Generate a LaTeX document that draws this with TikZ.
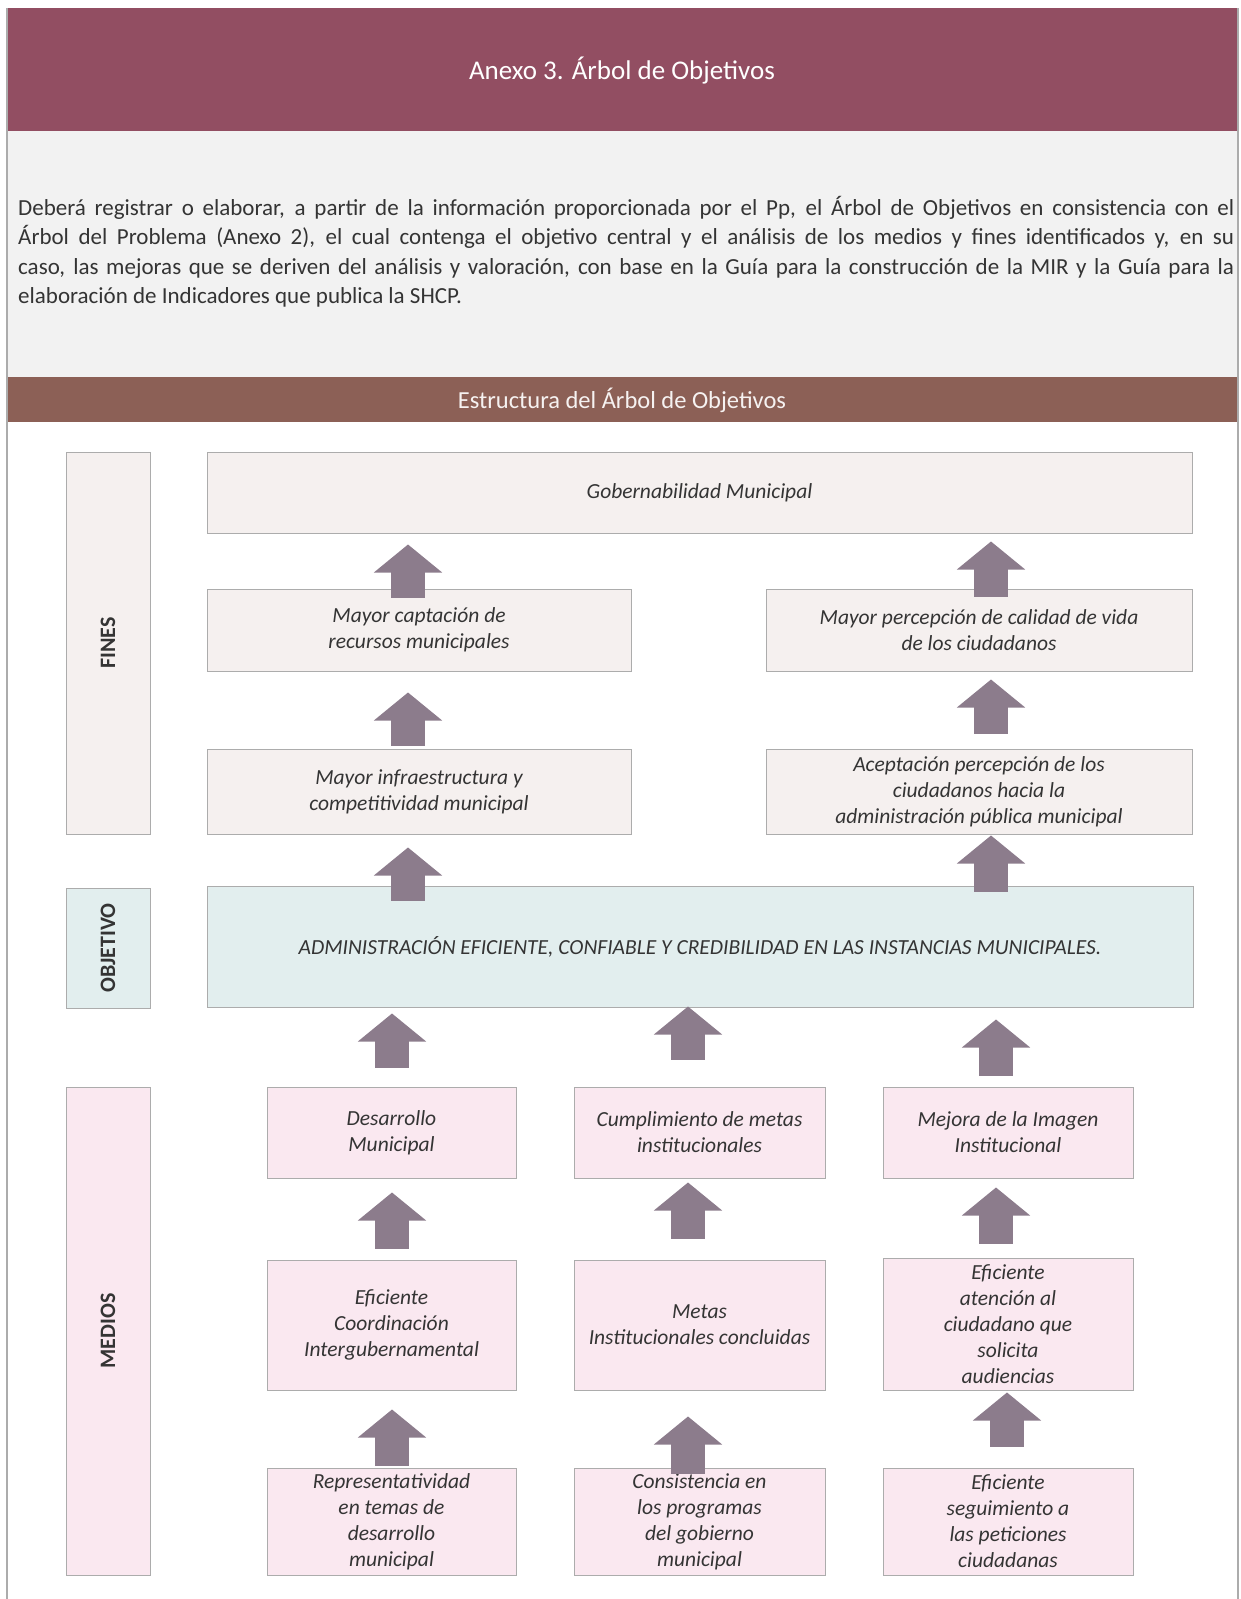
\documentclass[tikz,border=0pt]{standalone}
\usepackage{fontspec}
\setmainfont{Carlito}
\usetikzlibrary{arrows.meta,positioning}

\definecolor{headband}{RGB}{146,78,98}
\definecolor{estband}{RGB}{140,96,86}
\definecolor{parfill}{RGB}{242,242,242}
\definecolor{finfill}{RGB}{245,240,239}
\definecolor{objfill}{RGB}{226,238,238}
\definecolor{medfill}{RGB}{250,232,240}
\definecolor{arrowcol}{RGB}{140,124,140}
\definecolor{boxline}{RGB}{172,172,172}
\definecolor{boxtext}{RGB}{52,52,52}

\tikzset{
  box/.style={draw=boxline, line width=1pt, inner sep=2pt, align=center,
    text=boxtext, font=\fontsize{21.5}{26}\selectfont\itshape},
  finbox/.style={box, fill=finfill},
  objbox/.style={box, fill=objfill},
  medbox/.style={box, fill=medfill},
  sidelabel/.style={draw=boxline, line width=1pt, rotate=90, text=boxtext,
    font=\fontsize{22}{26}\selectfont\bfseries},
  uparrow/.style={draw=arrowcol, line width=34pt,
    -{Triangle[width=68pt,length=28pt,line width=2pt]}},
}

\begin{document}
\begin{tikzpicture}[x=1pt,y=-1pt]
  \useasboundingbox (0,0) rectangle (1241,1599);

  % Page frame and bands
  \fill[headband] (7,8) rectangle (1238,131);
  \fill[parfill] (7,131) rectangle (1238,377);
  \fill[estband] (7,377) rectangle (1238,422);
  \draw[boxline, line width=1.5pt] (7,8) -- (7,1599);
  \draw[boxline, line width=1.5pt] (1238,8) -- (1238,1599);

  \node[text=white, font=\fontsize{27}{31}\selectfont] (title) at (622,71) {Anexo 3. Árbol de Objetivos};
  \node[anchor=north west, inner sep=0pt, text width=1216pt, align=justify, text=boxtext,
    font=\fontsize{23}{29.5}\selectfont] (intro) at (18,196)
    {Deberá registrar o elaborar, a partir de la información proporcionada por el Pp, el Árbol de Objetivos en consistencia con el\linebreak
     Árbol del Problema (Anexo 2), el cual contenga el objetivo central y el análisis de los medios y fines identificados y, en su\linebreak
     caso, las mejoras que se deriven del análisis y valoración, con base en la Guía para la construcción de la MIR y la Guía para la\linebreak
     elaboración de Indicadores que publica la SHCP.};
  \node[text=white!92!estband, font=\fontsize{24.5}{28}\selectfont] (estr) at (622,400) {Estructura del Árbol de Objetivos};

  % Side labels
  \node[sidelabel, fill=finfill, minimum width=382pt, minimum height=84pt] (fines) at (108,643) {FINES};
  \node[sidelabel, fill=objfill, minimum width=120pt, minimum height=84pt] (objetivo) at (108,948) {OBJETIVO};
  \node[sidelabel, fill=medfill, minimum width=488pt, minimum height=84pt] (medios) at (108,1331) {MEDIOS};

  % Fines
  \node[finbox, minimum width=985pt, minimum height=81pt] (gob) at (699.5,492.5) {Gobernabilidad Municipal};
  \node[finbox, minimum width=424pt, minimum height=82pt] (capta) at (419,630) {Mayor captación de\\recursos municipales};
  \node[finbox, minimum width=426pt, minimum height=82pt] (percep) at (979,630) {Mayor percepción de calidad de vida\\de los ciudadanos};
  \node[finbox, minimum width=424pt, minimum height=85pt] (infra) at (419,791.5) {Mayor infraestructura y\\competitividad municipal};
  \node[finbox, minimum width=426pt, minimum height=85pt] (acept) at (979,791.5) {Aceptación percepción de los\\ciudadanos hacia la\\administración pública municipal};

  % Objetivo central
  \node[objbox, minimum width=986pt, minimum height=121pt] (obj) at (700,946.5) {ADMINISTRACIÓN EFICIENTE, CONFIABLE Y CREDIBILIDAD EN LAS INSTANCIAS MUNICIPALES.};

  % Medios
  \node[medbox, minimum width=249pt, minimum height=91pt] (desa) at (391.5,1132.5) {Desarrollo\\Municipal};
  \node[medbox, minimum width=251pt, minimum height=91pt] (cumpl) at (699.5,1132.5) {Cumplimiento de metas\\institucionales};
  \node[medbox, minimum width=250pt, minimum height=91pt] (mejora) at (1008,1132.5) {Mejora de la Imagen\\Institucional};
  \node[medbox, minimum width=249pt, minimum height=130pt] (coord) at (391.5,1325) {Eficiente\\Coordinación\\Intergubernamental};
  \node[medbox, minimum width=251pt, minimum height=130pt] (metas) at (699.5,1325) {Metas\\Institucionales concluidas};
  \node[medbox, minimum width=250pt, minimum height=132pt] (atenc) at (1008,1324) {Eficiente\\atención al\\ciudadano que\\solicita\\audiencias};
  \node[medbox, minimum width=249pt, minimum height=107pt] (repre) at (391.5,1521.5) {Representatividad\\en temas de\\desarrollo\\municipal};
  \node[medbox, minimum width=251pt, minimum height=107pt] (consis) at (699.5,1521.5) {Consistencia en\\los programas\\del gobierno\\municipal};
  \node[medbox, minimum width=250pt, minimum height=107pt] (segui) at (1008,1521.5) {Eficiente\\seguimiento a\\las peticiones\\ciudadanas};

  % Arrows (y runs downwards, so ++(0,-54) points up)
  \draw[uparrow] ([xshift=-11pt,yshift=-9pt]capta.north) -- ++(0,-53);
  \draw[uparrow] ([xshift=-11pt,yshift=3pt]infra.north) -- ++(0,-53);
  \draw[uparrow] ([xshift=-292pt,yshift=-15pt]obj.north) -- ++(0,-53);
  \draw[uparrow] ([xshift=12pt,yshift=-8pt]percep.north) -- ++(0,-55);
  \draw[uparrow] ([xshift=12pt,yshift=15pt]acept.north) -- ++(0,-54);
  \draw[uparrow] ([xshift=291pt,yshift=-6pt]obj.north) -- ++(0,-56);

  \draw[uparrow] ([xshift=0.5pt,yshift=19pt]desa.north) -- ++(0,-54);
  \draw[uparrow] ([xshift=-11.5pt,yshift=27pt]cumpl.north) -- ++(0,-53);
  \draw[uparrow] ([xshift=-12pt,yshift=11pt]mejora.north) -- ++(0,-56);
  \draw[uparrow] ([xshift=0.5pt,yshift=11pt]coord.north) -- ++(0,-56);
  \draw[uparrow] ([xshift=-11.5pt,yshift=21pt]metas.north) -- ++(0,-56);
  \draw[uparrow] ([xshift=-12pt,yshift=14pt]atenc.north) -- ++(0,-56);
  \draw[uparrow] ([xshift=0.5pt,yshift=2pt]repre.north) -- ++(0,-56);
  \draw[uparrow] ([xshift=-11.5pt,yshift=-6pt]consis.north) -- ++(0,-57);
  \draw[uparrow] ([xshift=-1pt,yshift=21pt]segui.north) -- ++(0,-54);
\end{tikzpicture}
\end{document}
